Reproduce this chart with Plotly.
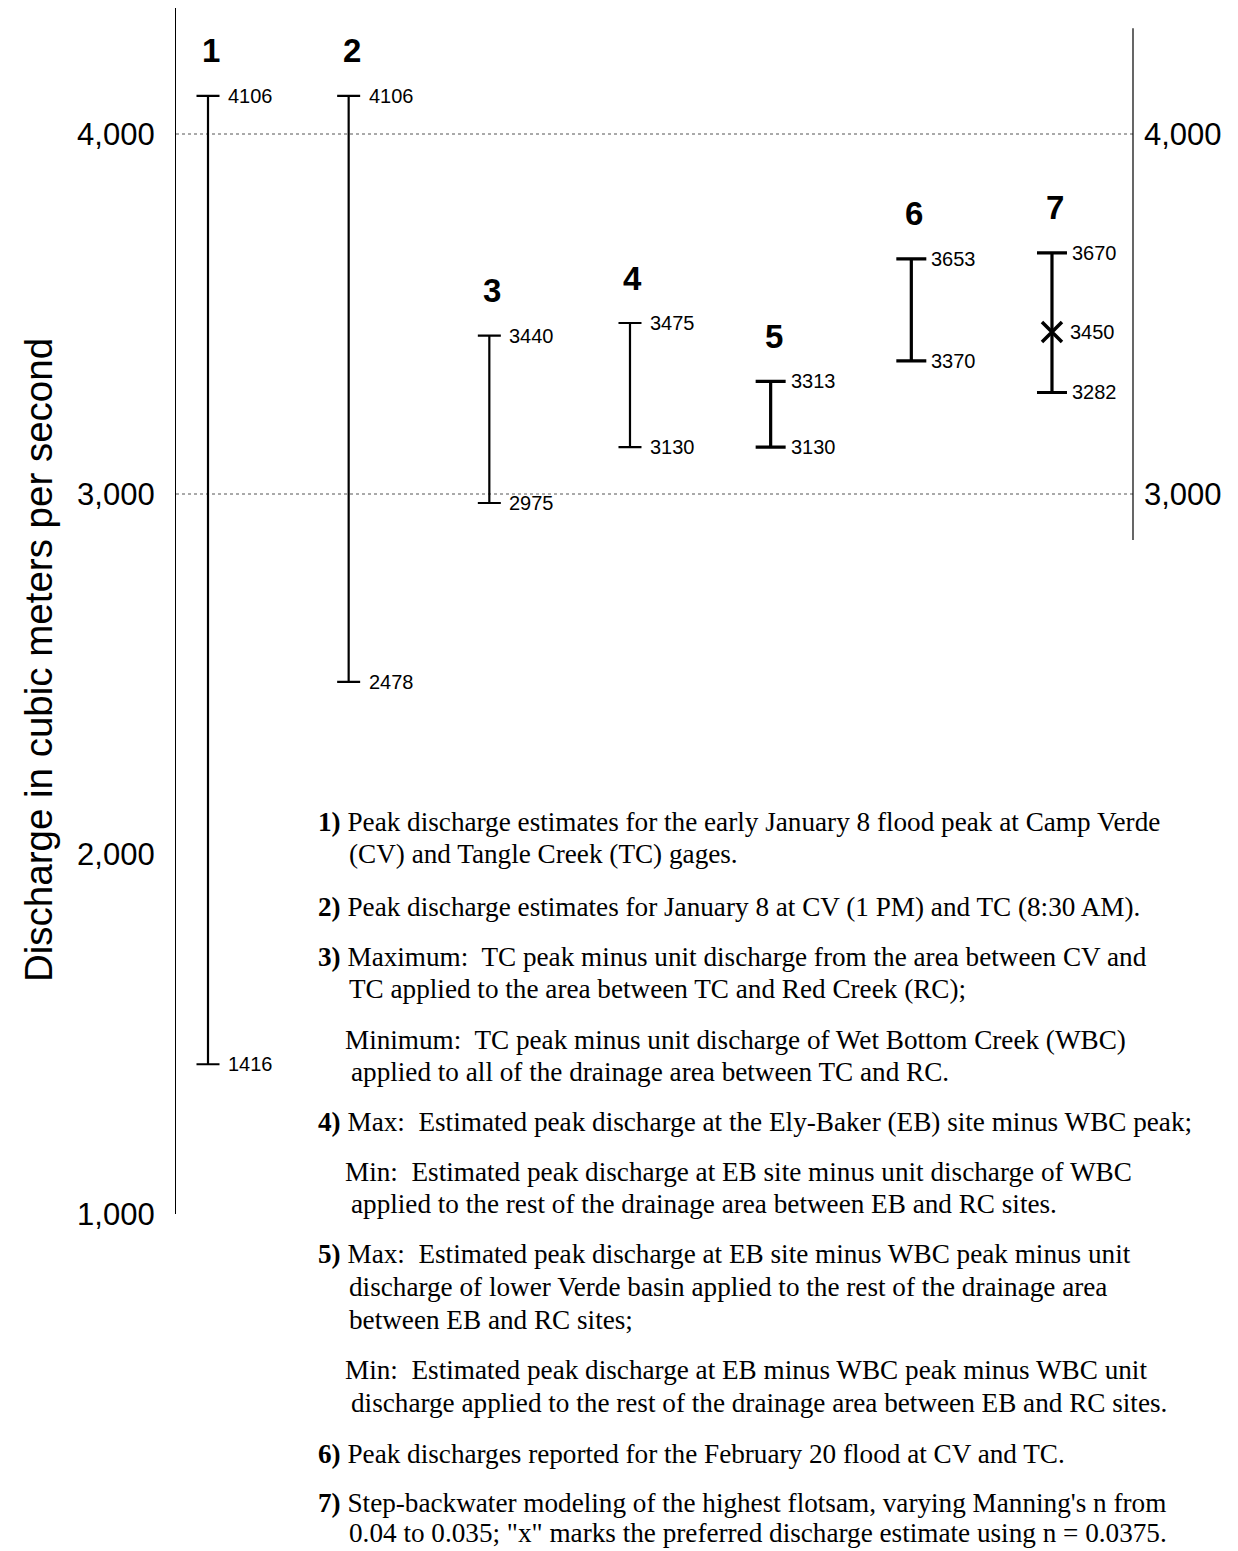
import plotly.graph_objects as go

# Estimate ranges (cubic meters per second)
estimate_ids = [1, 2, 3, 4, 5, 6, 7]
upper_values = [4106, 4106, 3440, 3475, 3313, 3653, 3670]
lower_values = [1416, 2478, 2975, 3130, 3130, 3370, 3282]
preferred_id = 7
preferred_value = 3450

left_ticks = [1000, 2000, 3000, 4000]
left_tick_text = ["1,000", "2,000", "3,000", "4,000"]
right_ticks = [3000, 4000]
right_tick_text = ["3,000", "4,000"]

y_title = "Discharge in cubic meters per second"

notes = [
    ("<b>1)</b> Peak discharge estimates for the early January 8 flood peak at Camp Verde", 316, 822),
    ("(CV) and Tangle Creek (TC) gages.", 347, 854),
    ("<b>2)</b> Peak discharge estimates for January 8 at CV (1 PM) and TC (8:30 AM).", 316, 907),
    ("<b>3)</b> Maximum:  TC peak minus unit discharge from the area between CV and", 316, 957),
    ("TC applied to the area between TC and Red Creek (RC);", 347, 989),
    ("Minimum:  TC peak minus unit discharge of Wet Bottom Creek (WBC)", 343, 1040),
    ("applied to all of the drainage area between TC and RC.", 349, 1072),
    ("<b>4)</b> Max:  Estimated peak discharge at the Ely-Baker (EB) site minus WBC peak;", 316, 1122),
    ("Min:  Estimated peak discharge at EB site minus unit discharge of WBC", 343, 1172),
    ("applied to the rest of the drainage area between EB and RC sites.", 349, 1204),
    ("<b>5)</b> Max:  Estimated peak discharge at EB site minus WBC peak minus unit", 316, 1254),
    ("discharge of lower Verde basin applied to the rest of the drainage area", 347, 1287),
    ("between EB and RC sites;", 347, 1320),
    ("Min:  Estimated peak discharge at EB minus WBC peak minus WBC unit", 343, 1370),
    ("discharge applied to the rest of the drainage area between EB and RC sites.", 349, 1403),
    ("<b>6)</b> Peak discharges reported for the February 20 flood at CV and TC.", 316, 1454),
    ("<b>7)</b> Step-backwater modeling of the highest flotsam, varying Manning's n from", 316, 1503),
    ("0.04 to 0.035; \"x\" marks the preferred discharge estimate using n = 0.0375.", 347, 1533),
]

W, H = 1238, 1551
M_L, M_R, M_T, M_B = 176, 105, 8, 337
PLOT_W = W - M_L - M_R
PLOT_H = H - M_T - M_B

Y_RANGE = [1000, 4350]
X_RANGE = [0.7725, 7.576]

SANS = "Liberation Sans, Arial, sans-serif"
SERIF = "Liberation Serif, Times New Roman, serif"


def px_to_paper(px, py):
    return (px - M_L) / PLOT_W, (H - M_B - py) / PLOT_H


fig = go.Figure()

# range bars drawn as symmetric error bars around each midpoint
for eid, hi, lo in zip(estimate_ids, upper_values, lower_values):
    heavy = eid >= 5
    fig.add_trace(go.Scatter(
        x=[eid], y=[(hi + lo) / 2],
        mode="markers",
        marker=dict(size=1, color="rgba(0,0,0,0)"),
        error_y=dict(type="data", symmetric=True, array=[(hi - lo) / 2],
                     color="black", thickness=3.2 if heavy else 2.2,
                     width=15 if heavy else 11.5),
        showlegend=False, hoverinfo="skip",
    ))

# preferred estimate marker
fig.add_trace(go.Scatter(
    x=[preferred_id], y=[preferred_value], mode="markers",
    marker=dict(symbol="x-thin", size=20, line=dict(width=3.5, color="black")),
    showlegend=False, hoverinfo="skip",
))

# invisible trace so the right-hand axis is rendered
fig.add_trace(go.Scatter(x=[estimate_ids[0]], y=[upper_values[0]], yaxis="y2",
                         mode="markers", marker=dict(color="rgba(0,0,0,0)"),
                         showlegend=False, hoverinfo="skip"))

annotations = []
for eid, hi, lo in zip(estimate_ids, upper_values, lower_values):
    annotations.append(dict(x=eid, y=hi, text=f"<b>{eid}</b>", showarrow=False,
                            xanchor="center", yanchor="middle", xshift=3, yshift=45,
                            font=dict(family=SANS, size=33, color="black")))
    for v in (hi, lo):
        annotations.append(dict(x=eid, y=v, text=str(v), showarrow=False,
                                xanchor="left", yanchor="middle", xshift=18,
                                font=dict(family=SANS, size=20, color="black")))
annotations.append(dict(x=preferred_id, y=preferred_value, text=str(preferred_value),
                        showarrow=False, xanchor="left", yanchor="middle", xshift=16,
                        font=dict(family=SANS, size=20, color="black")))

# vertical axis title
tx, ty = px_to_paper(38, 660)
annotations.append(dict(xref="paper", yref="paper", x=tx, y=ty, text=y_title,
                        textangle=-90, showarrow=False, xanchor="center", yanchor="middle",
                        font=dict(family=SANS, size=38.5, color="black")))

# explanatory notes below the bars
for text, px, py in notes:
    nx, ny = px_to_paper(px, py)
    annotations.append(dict(xref="paper", yref="paper", x=nx, y=ny,
                            text=text, showarrow=False, xanchor="left", yanchor="middle",
                            font=dict(family=SERIF, size=27.2, color="black")))

shapes = []
# dotted reference lines
for v in right_ticks:
    shapes.append(dict(type="line", xref="paper", yref="y", x0=0, x1=1, y0=v, y1=v,
                       line=dict(color="#555555", width=1, dash="dot"), layer="below"))
# right-hand axis line (partial)
shapes.append(dict(type="line", xref="paper", yref="y", x0=1, x1=1, y0=2872, y1=4294,
                   line=dict(color="black", width=1.2)))

fig.update_layout(
    width=W, height=H,
    margin=dict(l=M_L, r=M_R, t=M_T, b=M_B),
    paper_bgcolor="white", plot_bgcolor="white",
    xaxis=dict(range=X_RANGE, visible=False, fixedrange=True),
    yaxis=dict(range=Y_RANGE, tickvals=left_ticks, ticktext=left_tick_text,
               showgrid=False, zeroline=False, showline=True, linecolor="black",
               linewidth=1.2, ticks="", ticklabelstandoff=14,
               tickfont=dict(family=SANS, size=31, color="black")),
    yaxis2=dict(range=Y_RANGE, overlaying="y", side="right", tickvals=right_ticks,
                ticktext=right_tick_text, showgrid=False, zeroline=False,
                showline=False, ticks="", ticklabelstandoff=10,
                tickfont=dict(family=SANS, size=31, color="black")),
    annotations=annotations,
    shapes=shapes,
)

fig.write_html("out.html")
